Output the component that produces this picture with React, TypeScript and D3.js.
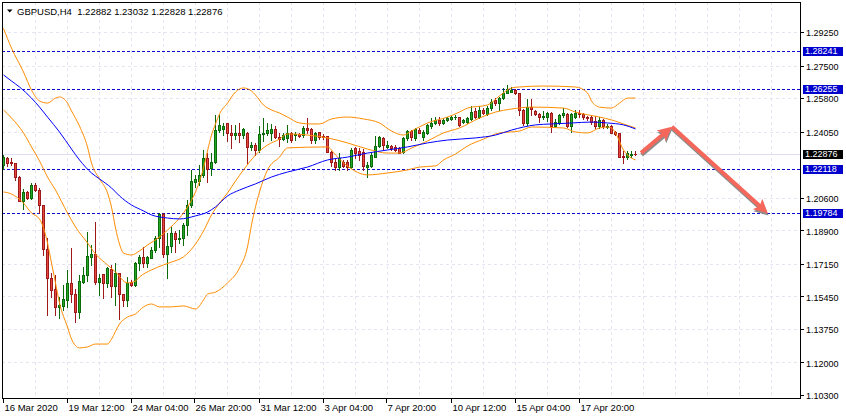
import { useRef, useEffect } from 'react';
import * as d3 from 'd3';

// GBPUSD H4 candles, [open, high, low, close], bar 0 = 16 Mar 2020
type Candle = [number, number, number, number];
type Pt = [number, number];

const candles: Candle[] = [
  [1.2231, 1.2283, 1.2210, 1.2273], [1.2267, 1.2274, 1.2226, 1.2240], [1.2244, 1.2267, 1.2231, 1.2240],
  [1.2240, 1.2243, 1.2152, 1.2170], [1.2170, 1.2173, 1.2043, 1.2044], [1.2044, 1.2105, 1.2001, 1.2091],
  [1.2088, 1.2096, 1.2052, 1.2057], [1.2057, 1.2135, 1.2052, 1.2126], [1.2126, 1.2135, 1.2096, 1.2100],
  [1.2100, 1.2109, 1.1980, 1.2022], [1.2022, 1.2022, 1.1761, 1.1791], [1.1791, 1.1850, 1.1448, 1.1639],
  [1.1639, 1.1667, 1.1543, 1.1578], [1.1582, 1.1657, 1.1448, 1.1491], [1.1491, 1.1543, 1.1432, 1.1500],
  [1.1495, 1.1604, 1.1474, 1.1530], [1.1526, 1.1683, 1.1491, 1.1616], [1.1616, 1.1798, 1.1517, 1.1557],
  [1.1557, 1.1583, 1.1413, 1.1461], [1.1461, 1.1656, 1.1434, 1.1625], [1.1618, 1.1700, 1.1613, 1.1657],
  [1.1657, 1.1879, 1.1625, 1.1756], [1.1752, 1.1813, 1.1709, 1.1766], [1.1766, 1.1935, 1.1608, 1.1622],
  [1.1622, 1.1660, 1.1552, 1.1642], [1.1660, 1.1660, 1.1535, 1.1616], [1.1616, 1.1700, 1.1595, 1.1692],
  [1.1688, 1.1709, 1.1543, 1.1601], [1.1601, 1.1718, 1.1500, 1.1665], [1.1667, 1.1667, 1.1425, 1.1556],
  [1.1556, 1.1557, 1.1496, 1.1526], [1.1526, 1.1648, 1.1496, 1.1617], [1.1618, 1.1630, 1.1601, 1.1604],
  [1.1604, 1.1726, 1.1601, 1.1718], [1.1718, 1.1761, 1.1683, 1.1751], [1.1751, 1.1804, 1.1700, 1.1721],
  [1.1721, 1.1756, 1.1700, 1.1751], [1.1745, 1.1804, 1.1744, 1.1787], [1.1787, 1.1860, 1.1778, 1.1851],
  [1.1851, 1.1980, 1.1804, 1.1973], [1.1973, 1.1980, 1.1752, 1.1765], [1.1766, 1.1876, 1.1639, 1.1808],
  [1.1808, 1.1909, 1.1777, 1.1874], [1.1874, 1.1886, 1.1778, 1.1843], [1.1844, 1.1891, 1.1822, 1.1851],
  [1.1848, 1.1926, 1.1813, 1.1918], [1.1918, 1.2048, 1.1865, 1.2022], [1.2022, 1.2205, 1.2013, 1.2149],
  [1.2144, 1.2179, 1.2117, 1.2156], [1.2149, 1.2231, 1.2126, 1.2179], [1.2179, 1.2309, 1.2170, 1.2266],
  [1.2269, 1.2295, 1.2144, 1.2208], [1.2213, 1.2292, 1.2179, 1.2245], [1.2245, 1.2492, 1.2240, 1.2413],
  [1.2413, 1.2492, 1.2405, 1.2440], [1.2417, 1.2448, 1.2387, 1.2434], [1.2449, 1.2452, 1.2358, 1.2396],
  [1.2396, 1.2440, 1.2318, 1.2387], [1.2387, 1.2440, 1.2365, 1.2399], [1.2399, 1.2449, 1.2352, 1.2387],
  [1.2387, 1.2424, 1.2370, 1.2417], [1.2396, 1.2405, 1.2243, 1.2326], [1.2326, 1.2352, 1.2309, 1.2335],
  [1.2335, 1.2344, 1.2283, 1.2309], [1.2309, 1.2434, 1.2300, 1.2393], [1.2393, 1.2475, 1.2358, 1.2399],
  [1.2396, 1.2449, 1.2387, 1.2413], [1.2399, 1.2445, 1.2361, 1.2417], [1.2417, 1.2434, 1.2370, 1.2375],
  [1.2377, 1.2396, 1.2330, 1.2364], [1.2369, 1.2399, 1.2361, 1.2387], [1.2372, 1.2440, 1.2352, 1.2399],
  [1.2399, 1.2405, 1.2352, 1.2361], [1.2387, 1.2405, 1.2361, 1.2393], [1.2393, 1.2399, 1.2375, 1.2382],
  [1.2387, 1.2434, 1.2375, 1.2422], [1.2422, 1.2475, 1.2399, 1.2413], [1.2419, 1.2422, 1.2347, 1.2361],
  [1.2361, 1.2405, 1.2344, 1.2396], [1.2401, 1.2405, 1.2365, 1.2378], [1.2382, 1.2393, 1.2365, 1.2378],
  [1.2382, 1.2382, 1.2300, 1.2300], [1.2300, 1.2305, 1.2226, 1.2248], [1.2248, 1.2260, 1.2205, 1.2222],
  [1.2222, 1.2292, 1.2205, 1.2266], [1.2248, 1.2257, 1.2219, 1.2226], [1.2245, 1.2257, 1.2205, 1.2222],
  [1.2222, 1.2318, 1.2213, 1.2309], [1.2318, 1.2326, 1.2266, 1.2292], [1.2305, 1.2318, 1.2257, 1.2283],
  [1.2300, 1.2313, 1.2205, 1.2226], [1.2219, 1.2248, 1.2167, 1.2231], [1.2226, 1.2292, 1.2222, 1.2283],
  [1.2274, 1.2382, 1.2271, 1.2330], [1.2330, 1.2382, 1.2323, 1.2375], [1.2370, 1.2375, 1.2309, 1.2335],
  [1.2323, 1.2358, 1.2318, 1.2335], [1.2330, 1.2335, 1.2309, 1.2318], [1.2323, 1.2335, 1.2305, 1.2309],
  [1.2318, 1.2326, 1.2292, 1.2295], [1.2300, 1.2375, 1.2295, 1.2370], [1.2370, 1.2413, 1.2361, 1.2408],
  [1.2408, 1.2413, 1.2361, 1.2375], [1.2370, 1.2422, 1.2361, 1.2417], [1.2413, 1.2422, 1.2396, 1.2399],
  [1.2378, 1.2413, 1.2361, 1.2405], [1.2399, 1.2445, 1.2393, 1.2440], [1.2434, 1.2475, 1.2425, 1.2452],
  [1.2449, 1.2483, 1.2445, 1.2466], [1.2466, 1.2483, 1.2440, 1.2449], [1.2449, 1.2475, 1.2445, 1.2466],
  [1.2466, 1.2480, 1.2460, 1.2475], [1.2471, 1.2486, 1.2466, 1.2483], [1.2481, 1.2492, 1.2471, 1.2483],
  [1.2480, 1.2483, 1.2434, 1.2440], [1.2454, 1.2469, 1.2449, 1.2466], [1.2454, 1.2480, 1.2449, 1.2475],
  [1.2469, 1.2539, 1.2466, 1.2509], [1.2514, 1.2527, 1.2475, 1.2480], [1.2483, 1.2539, 1.2475, 1.2518],
  [1.2518, 1.2527, 1.2497, 1.2501], [1.2495, 1.2539, 1.2492, 1.2527], [1.2527, 1.2574, 1.2518, 1.2561],
  [1.2570, 1.2579, 1.2544, 1.2556], [1.2556, 1.2584, 1.2518, 1.2579], [1.2579, 1.2631, 1.2574, 1.2605],
  [1.2605, 1.2648, 1.2605, 1.2626], [1.2613, 1.2639, 1.2612, 1.2622], [1.2622, 1.2626, 1.2601, 1.2605],
  [1.2605, 1.2608, 1.2492, 1.2518], [1.2518, 1.2521, 1.2440, 1.2449], [1.2449, 1.2574, 1.2440, 1.2535],
  [1.2535, 1.2574, 1.2492, 1.2521], [1.2514, 1.2518, 1.2492, 1.2497], [1.2497, 1.2504, 1.2457, 1.2480],
  [1.2480, 1.2514, 1.2469, 1.2487], [1.2480, 1.2509, 1.2462, 1.2504], [1.2504, 1.2509, 1.2405, 1.2434],
  [1.2434, 1.2469, 1.2431, 1.2457], [1.2449, 1.2497, 1.2445, 1.2492], [1.2492, 1.2527, 1.2483, 1.2504],
  [1.2497, 1.2504, 1.2431, 1.2434], [1.2434, 1.2504, 1.2405, 1.2497], [1.2483, 1.2518, 1.2475, 1.2501],
  [1.2504, 1.2518, 1.2483, 1.2497], [1.2497, 1.2504, 1.2472, 1.2480], [1.2483, 1.2486, 1.2466, 1.2475],
  [1.2480, 1.2492, 1.2445, 1.2457], [1.2460, 1.2486, 1.2422, 1.2434], [1.2434, 1.2480, 1.2422, 1.2466],
  [1.2466, 1.2469, 1.2422, 1.2434], [1.2428, 1.2445, 1.2422, 1.2434], [1.2434, 1.2440, 1.2396, 1.2399],
  [1.2405, 1.2410, 1.2387, 1.2393], [1.2396, 1.2399, 1.2271, 1.2274], [1.2278, 1.2305, 1.2243, 1.2271],
  [1.2271, 1.2305, 1.2260, 1.2292], [1.2283, 1.2305, 1.2274, 1.2288], [1.22882, 1.23032, 1.22828, 1.22876],
];

// Bollinger bands (orange), [bar, price]
const upperBand: Pt[] = [
  [0, 1.2944], [2, 1.2841], [5, 1.2716], [7, 1.2622], [9, 1.2565], [11, 1.2554], [13, 1.2580], [14, 1.2586],
  [16, 1.2554], [17, 1.2513], [19, 1.2434], [21, 1.2325], [22, 1.2241], [24, 1.2158], [26, 1.2085], [27, 1.2011],
  [28, 1.1902], [29, 1.1818], [30, 1.1771], [32, 1.1761], [34, 1.1782], [36, 1.1813], [39, 1.1855], [41, 1.1891],
  [44, 1.1954], [46, 1.2011], [48, 1.2090], [50, 1.2215], [51, 1.2304], [52, 1.2387], [53, 1.2445], [54, 1.2497],
  [56, 1.2554], [58, 1.2612], [60, 1.2633], [62, 1.2617], [63, 1.2596], [65, 1.2544], [67, 1.2518], [69, 1.2502],
  [71, 1.2481], [74, 1.2450], [77, 1.2445], [79, 1.2445], [82, 1.2471], [86, 1.2481], [90, 1.2471], [94, 1.2450],
  [97, 1.2408], [100, 1.2387], [102, 1.2408], [106, 1.2450], [111, 1.2481], [114, 1.2507], [116, 1.2528],
  [121, 1.2544], [124, 1.2591], [127, 1.2633], [129, 1.2638], [135, 1.2643], [143, 1.2638], [146, 1.2607],
  [147, 1.2565], [149, 1.2533], [152, 1.2528], [154, 1.2554], [156, 1.2580], [158, 1.2580],
];

const middleBand: Pt[] = [
  [0, 1.2518], [2, 1.2476], [5, 1.2398], [7, 1.2325], [9, 1.2252], [11, 1.2168], [13, 1.2100], [16, 1.1980],
  [18, 1.1907], [21, 1.1824], [23, 1.1766], [26, 1.1709], [28, 1.1672], [31, 1.1615], [33, 1.1625], [34, 1.1646],
  [37, 1.1683], [40, 1.1709], [42, 1.1724], [45, 1.1751], [48, 1.1818], [50, 1.1886], [52, 1.1970], [54, 1.2032],
  [56, 1.2085], [58, 1.2147], [60, 1.2205], [63, 1.2283], [66, 1.2335], [69, 1.2366], [71, 1.2393], [76, 1.2387],
  [81, 1.2372], [86, 1.2346], [91, 1.2314], [96, 1.2293], [99, 1.2293], [102, 1.2319], [106, 1.2356],
  [110, 1.2398], [114, 1.2424], [119, 1.2476], [123, 1.2507], [127, 1.2523], [132, 1.2533], [140, 1.2528],
  [143, 1.2507], [149, 1.2481], [152, 1.2466], [155, 1.2445], [158, 1.2424],
];

const lowerBand: Pt[] = [
  [0, 1.2090], [2, 1.2079], [5, 1.2032], [7, 1.1980], [9, 1.1949], [10, 1.1902], [11, 1.1824], [12, 1.1719],
  [13, 1.1615], [14, 1.1510], [16, 1.1385], [17, 1.1322], [19, 1.1276], [21, 1.1281], [23, 1.1296], [26, 1.1296],
  [27, 1.1322], [29, 1.1401], [31, 1.1437], [33, 1.1453], [35, 1.1490], [37, 1.1505], [39, 1.1490], [42, 1.1490],
  [45, 1.1495], [48, 1.1479], [50, 1.1526], [51, 1.1557], [53, 1.1567], [56, 1.1615], [59, 1.1693], [61, 1.1803],
  [62, 1.1918], [64, 1.2090], [66, 1.2205], [69, 1.2272], [71, 1.2320], [81, 1.2325], [83, 1.2283], [86, 1.2225],
  [91, 1.2179], [96, 1.2189], [101, 1.2205], [104, 1.2220], [108, 1.2226], [110, 1.2257], [113, 1.2288],
  [116, 1.2330], [120, 1.2366], [124, 1.2398], [129, 1.2408], [132, 1.2429], [140, 1.2424], [143, 1.2403],
  [146, 1.2398], [149, 1.2424], [151, 1.2429], [152, 1.2424], [153, 1.2398], [155, 1.2309], [156, 1.2283],
  [158, 1.2257],
];

// slow moving average (blue)
const maLine: Pt[] = [
  [0, 1.2701], [2, 1.2669], [4, 1.2638], [7, 1.2580], [9, 1.2533], [11, 1.2481], [14, 1.2403], [17, 1.2314],
  [19, 1.2257], [22, 1.2189], [24, 1.2158], [27, 1.2111], [29, 1.2069], [32, 1.2022], [35, 1.1991], [37, 1.1970],
  [41, 1.1954], [44, 1.1949], [48, 1.1965], [51, 1.1985], [53, 1.2012], [56, 1.2069], [59, 1.2100], [63, 1.2132],
  [67, 1.2168], [71, 1.2194], [76, 1.2220], [81, 1.2257], [86, 1.2272], [91, 1.2293], [96, 1.2309], [101, 1.2325],
  [106, 1.2346], [111, 1.2361], [118, 1.2372], [123, 1.2387], [127, 1.2413], [133, 1.2440], [137, 1.2445],
  [142, 1.2450], [147, 1.2455], [151, 1.2450], [155, 1.2440], [158, 1.2419],
];

const levels = [1.28241, 1.26255, 1.22118, 1.19784];
const lastPrice = 1.22876;
const priceTicks = [1.2925, 1.275, 1.258, 1.2405, 1.206, 1.189, 1.1715, 1.1545, 1.1375, 1.12, 1.103];
const timeLabels: [number, string][] = [
  [0, '16 Mar 2020'], [16, '19 Mar 12:00'], [32, '24 Mar 04:00'], [48, '26 Mar 20:00'], [64, '31 Mar 12:00'],
  [80, '3 Apr 04:00'], [96, '7 Apr 20:00'], [112, '10 Apr 12:00'], [128, '15 Apr 04:00'], [144, '17 Apr 20:00'],
];
// forecast arrows drawn on the chart, [bar, price]
const arrowPath: Pt[] = [[159.4, 1.2294], [167.1, 1.2430], [191.1, 1.1978]];
const title = 'GBPUSD,H4  1.22882 1.23032 1.22828 1.22876';

const FONT = '"Liberation Sans", Arial, sans-serif';

export default function App() {
  const svgRef = useRef<SVGSVGElement>(null);

  useEffect(() => {
    if (!svgRef.current) return;
    const svg = d3.select(svgRef.current);
    svg.selectAll('*').remove();

    const left = 2, right = 800, top = 2, bottom = 398;
    const x = d3.scaleLinear().domain([0, 199]).range([3.5, 799.5]);
    const y = d3.scaleLinear().domain([1.103, 1.2925]).range([395, 32]);
    const py = (v: number) => Math.round(y(v)) + 0.5;

    svg.append('rect').attr('width', 846).attr('height', 419).attr('fill', '#fff');

    svg.append('defs').append('clipPath').attr('id', 'plot-clip')
      .append('rect').attr('x', left).attr('y', top).attr('width', right - left).attr('height', bottom - top);

    const grid = svg.append('g').attr('shape-rendering', 'crispEdges')
      .attr('stroke', '#e4e4f2').attr('stroke-dasharray', '3,3');
    grid.selectAll('line.v').data(d3.range(8, 200, 8)).enter().append('line')
      .attr('x1', d => x(d)).attr('x2', d => x(d)).attr('y1', top).attr('y2', bottom);
    grid.selectAll('line.h').data(priceTicks.slice(0, -1)).enter().append('line')
      .attr('x1', left).attr('x2', right).attr('y1', d => py(d)).attr('y2', d => py(d));

    // current price line
    svg.append('line').attr('shape-rendering', 'crispEdges')
      .attr('x1', left).attr('x2', right).attr('y1', py(lastPrice)).attr('y2', py(lastPrice))
      .attr('stroke', '#dcdcf2');

    // horizontal levels
    svg.append('g').attr('shape-rendering', 'crispEdges')
      .selectAll('line').data(levels).enter().append('line')
      .attr('x1', left).attr('x2', right).attr('y1', d => py(d)).attr('y2', d => py(d))
      .attr('stroke', '#0a0ad2').attr('stroke-dasharray', '3,2');

    // candles
    const cg = svg.append('g').attr('shape-rendering', 'crispEdges').attr('clip-path', 'url(#plot-clip)');
    candles.forEach(([o, h, l, c], i) => {
      const up = c >= o;
      const dark = up ? '#0b6b0b' : '#9e1a1a';
      const fill = up ? '#22a822' : '#e5473d';
      const cx = x(i);
      cg.append('line').attr('x1', cx).attr('x2', cx)
        .attr('y1', Math.round(y(h))).attr('y2', Math.round(y(l)) + 1).attr('stroke', dark);
      const yt = Math.round(y(Math.max(o, c)));
      const yb = Math.round(y(Math.min(o, c)));
      if (yb - yt < 1) {
        cg.append('line').attr('x1', cx - 1.5).attr('x2', cx + 1.5)
          .attr('y1', yt + 0.5).attr('y2', yt + 0.5).attr('stroke', dark);
      } else {
        cg.append('rect').attr('x', cx - 1).attr('y', yt + 0.5)
          .attr('width', 2).attr('height', yb - yt)
          .attr('fill', fill).attr('stroke', dark);
      }
    });

    // indicator lines
    const line = d3.line<Pt>().x(d => x(d[0])).y(d => y(d[1])).curve(d3.curveMonotoneX);
    const lg = svg.append('g').attr('clip-path', 'url(#plot-clip)').attr('fill', 'none');
    [upperBand, middleBand, lowerBand].forEach(band => {
      lg.append('path').attr('d', line(band)).attr('stroke', '#ff8c00').attr('stroke-width', 1);
    });
    lg.append('path').attr('d', line(maLine)).attr('stroke', '#0000ff').attr('stroke-width', 1);

    // arrows
    const pts = arrowPath.map(([b, p]) => [x(b), y(p)] as [number, number]);
    const drawArrow = (g: d3.Selection<SVGGElement, unknown, null, undefined>, a: [number, number], b: [number, number], color: string) => {
      const dx = b[0] - a[0], dy = b[1] - a[1];
      const len = Math.hypot(dx, dy);
      const ux = dx / len, uy = dy / len, nx = -uy, ny = ux;
      const hl = 14, hw = 7;
      const bx = b[0] - ux * hl, by = b[1] - uy * hl;
      g.append('line').attr('x1', a[0]).attr('y1', a[1]).attr('x2', bx + ux * 3).attr('y2', by + uy * 3)
        .attr('stroke', color).attr('stroke-width', 4);
      g.append('path')
        .attr('d', `M${b[0]},${b[1]}L${bx + nx * hw},${by + ny * hw}L${bx + ux * 3},${by + uy * 3}L${bx - nx * hw},${by - ny * hw}Z`)
        .attr('fill', color);
    };
    const shadow = svg.append('g').attr('transform', 'translate(0.5,2)');
    const arrows = svg.append('g');
    for (let k = 0; k < pts.length - 1; k++) {
      drawArrow(shadow, pts[k], pts[k + 1], '#8c8c8c');
    }
    for (let k = 0; k < pts.length - 1; k++) {
      drawArrow(arrows, pts[k], pts[k + 1], '#f4675a');
    }

    // frame
    svg.append('rect').attr('shape-rendering', 'crispEdges')
      .attr('x', left + 0.5).attr('y', top + 0.5).attr('width', right - left).attr('height', bottom - top)
      .attr('fill', 'none').attr('stroke', '#000');

    // price axis
    const pa = svg.append('g').attr('font-family', FONT).attr('font-size', 9);
    priceTicks.forEach(v => {
      pa.append('line').attr('shape-rendering', 'crispEdges')
        .attr('x1', right).attr('x2', right + 4).attr('y1', py(v)).attr('y2', py(v)).attr('stroke', '#000');
      pa.append('text').attr('x', 806).attr('y', y(v) + 4.3).attr('fill', '#000').text(v.toFixed(5));
    });
    levels.forEach(v => {
      pa.append('rect').attr('x', 803).attr('y', Math.round(y(v)) - 4).attr('width', 40).attr('height', 9)
        .attr('fill', '#0000cd');
      pa.append('text').attr('x', 805).attr('y', y(v) + 2.9).attr('fill', '#fff').text(v.toFixed(5));
    });
    pa.append('rect').attr('x', 803).attr('y', Math.round(y(lastPrice)) - 4).attr('width', 40).attr('height', 9)
      .attr('fill', '#000');
    pa.append('text').attr('x', 805).attr('y', y(lastPrice) + 2.9).attr('fill', '#fff').text(lastPrice.toFixed(5));

    // time axis
    const ta = svg.append('g').attr('font-family', FONT).attr('font-size', 9.5);
    timeLabels.forEach(([b, label]) => {
      const tx = Math.round(x(b)) - 0.5;
      ta.append('line').attr('shape-rendering', 'crispEdges')
        .attr('x1', tx).attr('x2', tx).attr('y1', bottom).attr('y2', bottom + 5).attr('stroke', '#000');
      ta.append('text').attr('x', tx + 1).attr('y', 411).attr('fill', '#000').text(label);
    });

    // header
    svg.append('path').attr('d', 'M7,9.5L12.5,9.5L9.75,12.5Z').attr('fill', '#000');
    svg.append('text').attr('x', 17).attr('y', 14.5).attr('font-family', FONT).attr('font-size', 9.5)
      .attr('fill', '#000').attr('xml:space', 'preserve').style('white-space', 'pre').text(title);
  }, []);

  return (
    <div style={{ position: 'absolute', left: 0, top: 0, width: 846, height: 419, background: '#fff' }}>
      <svg ref={svgRef} width={846} height={419} style={{ display: 'block' }} />
    </div>
  );
}
